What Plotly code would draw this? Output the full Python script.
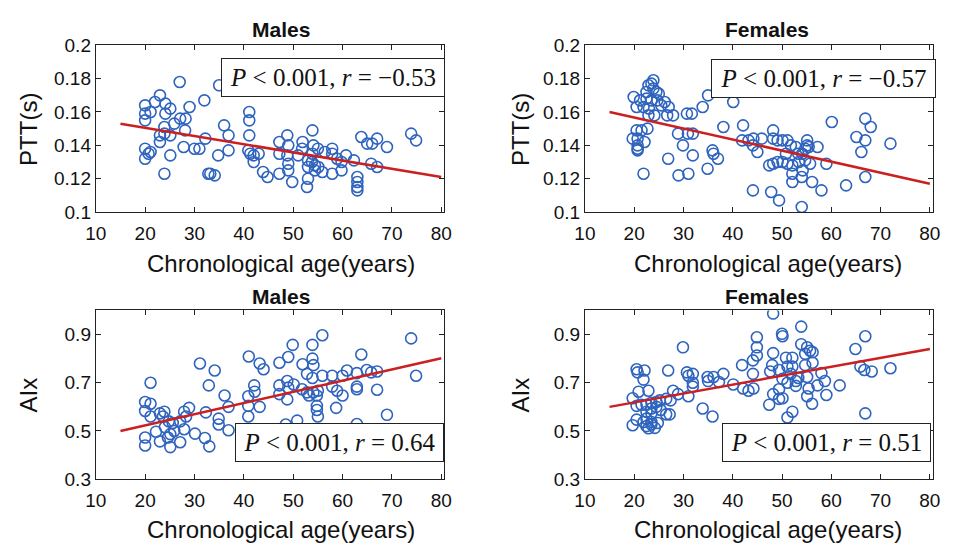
import plotly.graph_objects as go

# ---------------- data ----------------
males_ptt_age = [27.0,35.0,23.0,22.0,20.0,24.1,25.1,20.0,21.1,32.0,29.0,24.1,20.0,27.1,28.2,25.9,23.9,28.1,25.1,23.0,23.9,23.0,20.0,21.1,20.7,20.0,25.1,27.8,30.0,31.0,32.2,36.0,36.9,36.9,34.8,23.9,32.8,33.2,34.1,41.1,41.1,41.1,40.9,41.3,42.0,43.0,42.0,43.9,44.8,
                 48.8,47.2,47.2,49.0,48.8,49.0,49.0,47.2,49.8,51.9,51.8,51.0,53.9,54.1,55.0,53.9,53.0,53.8,54.4,55.1,53.0,54.4,55.9,53.0,52.8,57.9,57.9,58.9,60.7,59.8,59.8,57.9,63.0,63.0,63.0,63.0,63.8,65.0,66.0,67.0,69.0,65.8,67.0,73.9,74.9,56.4,62.3]
males_ptt = [0.178,0.176,0.170,0.166,0.164,0.165,0.162,0.159,0.160,0.167,0.163,0.159,0.155,0.156,0.156,0.153,0.151,0.149,0.146,0.146,0.147,0.142,0.138,0.136,0.135,0.132,0.134,0.139,0.138,0.138,0.144,0.152,0.146,0.137,0.134,0.123,0.123,0.123,0.122,0.160,0.155,0.146,0.137,0.135,0.134,0.135,0.130,0.124,0.121,
             0.146,0.142,0.135,0.140,0.134,0.129,0.125,0.123,0.118,0.142,0.138,0.134,0.149,0.140,0.138,0.135,0.131,0.130,0.128,0.127,0.127,0.125,0.124,0.120,0.115,0.138,0.135,0.132,0.134,0.130,0.125,0.123,0.121,0.118,0.115,0.113,0.145,0.141,0.141,0.144,0.139,0.129,0.127,0.147,0.143,0.136,0.131]

females_ptt_age = [23.9,23.5,22.9,23.9,22.5,24.5,25.0,19.9,21.2,22.5,23.5,24.7,26.2,25.5,20.5,21.9,23.0,27.0,22.9,24.1,26.7,27.9,30.7,31.7,33.9,35.0,40.1,20.5,21.5,22.7,19.7,20.7,22.1,20.7,20.7,20.7,28.9,30.9,31.9,29.9,31.9,35.9,36.1,37.0,26.9,21.9,29.0,31.0,34.9,38.1,42.1,41.9,43.2,44.2,44.1,45.0,44.1,
                   60.1,66.9,68.0,48.2,45.9,48.2,49.1,50.1,51.1,51.8,52.8,55.1,55.1,54.7,55.4,57.2,54.1,53.3,50.8,65.1,66.9,66.1,72.0,47.4,48.2,49.1,50.1,51.1,52.1,53.4,54.7,55.7,54.2,52.1,54.0,52.1,56.1,59.0,58.0,63.0,66.9,47.8,49.4,54.0]
females_ptt = [0.179,0.177,0.176,0.174,0.172,0.172,0.171,0.169,0.167,0.168,0.167,0.167,0.166,0.164,0.163,0.163,0.162,0.163,0.158,0.158,0.158,0.158,0.159,0.159,0.163,0.170,0.166,0.149,0.149,0.150,0.144,0.144,0.142,0.140,0.138,0.137,0.147,0.147,0.147,0.140,0.134,0.137,0.135,0.132,0.132,0.123,0.122,0.123,0.126,0.151,0.152,0.143,0.143,0.144,0.140,0.136,0.113,
               0.154,0.156,0.151,0.149,0.144,0.144,0.143,0.143,0.143,0.140,0.139,0.143,0.140,0.138,0.139,0.139,0.135,0.135,0.135,0.145,0.143,0.136,0.141,0.128,0.129,0.130,0.130,0.129,0.128,0.130,0.131,0.129,0.125,0.123,0.121,0.118,0.118,0.129,0.113,0.116,0.121,0.112,0.107,0.103]

males_aix_age = [41.0,43.2,44.0,31.1,34.1,21.1,32.9,42.1,42.2,40.9,36.1,20.0,21.1,20.0,21.1,23.0,23.9,23.6,24.8,27.9,28.9,28.3,32.3,36.9,40.9,43.2,40.9,34.9,34.9,36.9,22.2,24.0,25.6,25.9,25.1,27.1,27.9,30.1,32.1,33.0,20.0,20.0,23.0,25.1,27.1,24.6,
                 55.9,49.9,53.9,73.9,49.0,47.2,51.9,53.9,54.1,63.8,52.8,53.9,55.9,57.9,60.0,60.9,62.9,64.9,65.8,67.0,74.9,47.2,48.8,49.0,50.1,47.2,48.8,51.8,52.8,54.1,55.0,54.8,53.2,57.9,58.9,60.0,62.9,62.9,67.0,54.8,54.8,55.0,58.7,69.0,50.8,62.9,48.5]
males_aix = [0.809,0.780,0.756,0.780,0.751,0.700,0.689,0.689,0.663,0.644,0.647,0.620,0.613,0.583,0.560,0.573,0.580,0.560,0.540,0.580,0.596,0.560,0.577,0.600,0.604,0.600,0.560,0.551,0.527,0.503,0.497,0.516,0.533,0.500,0.487,0.540,0.507,0.489,0.471,0.436,0.473,0.440,0.457,0.433,0.453,0.473,
             0.897,0.857,0.857,0.884,0.807,0.783,0.777,0.800,0.773,0.817,0.737,0.720,0.729,0.729,0.729,0.751,0.740,0.753,0.743,0.747,0.729,0.689,0.707,0.680,0.693,0.653,0.631,0.673,0.660,0.660,0.667,0.647,0.647,0.684,0.667,0.647,0.684,0.673,0.671,0.604,0.587,0.560,0.596,0.567,0.543,0.529,0.527]

females_aix_age = [29.9,20.5,20.7,22.1,21.9,26.9,30.7,31.0,31.9,31.9,31.9,34.9,35.0,36.1,38.1,37.2,40.1,41.9,44.1,44.9,44.9,44.9,44.1,42.1,43.2,44.2,20.9,22.9,19.7,20.5,21.5,22.5,23.5,24.5,25.2,23.5,24.5,22.5,23.5,25.4,26.5,27.2,20.5,22.5,21.9,23.5,24.8,19.7,22.5,22.9,24.2,23.5,27.9,28.9,26.5,31.0,33.9,35.9,27.4,
                   48.2,53.9,50.0,50.1,66.9,53.9,55.1,55.7,56.2,54.7,48.2,64.9,50.8,52.1,56.2,48.0,47.6,49.4,51.1,52.1,54.7,65.9,66.7,68.2,72.0,58.0,55.1,53.3,51.8,52.8,50.1,51.1,58.7,61.7,52.8,55.4,57.2,49.4,48.2,49.4,50.1,55.1,59.0,56.1,47.4,52.1,51.1,66.9]
females_aix = [0.847,0.756,0.743,0.751,0.713,0.751,0.743,0.729,0.737,0.700,0.684,0.724,0.707,0.724,0.737,0.703,0.693,0.773,0.793,0.889,0.847,0.813,0.737,0.676,0.667,0.676,0.663,0.667,0.636,0.604,0.609,0.609,0.617,0.620,0.627,0.593,0.600,0.580,0.573,0.587,0.569,0.569,0.547,0.551,0.537,0.537,0.533,0.524,0.520,0.511,0.513,0.527,0.667,0.653,0.633,0.644,0.593,0.560,0.627,
               0.987,0.933,0.903,0.893,0.893,0.860,0.847,0.833,0.827,0.820,0.823,0.840,0.804,0.804,0.783,0.773,0.747,0.753,0.767,0.767,0.773,0.767,0.753,0.747,0.760,0.740,0.724,0.720,0.737,0.707,0.716,0.700,0.707,0.689,0.687,0.676,0.689,0.673,0.653,0.633,0.636,0.644,0.649,0.613,0.609,0.580,0.556,0.573]

fit_age = [15, 80]
males_ptt_fit = [0.153, 0.121]
females_ptt_fit = [0.160, 0.117]
males_aix_fit = [0.50, 0.802]
females_aix_fit = [0.60, 0.84]

panel_titles = ["Males", "Females", "Males", "Females"]
stats_text = ["<i>P</i> < 0.001, <i>r</i> = −0.53", "<i>P</i> < 0.001, <i>r</i> = −0.57",
              "<i>P</i> < 0.001, <i>r</i> = 0.64", "<i>P</i> < 0.001, <i>r</i> = 0.51"]
x_ticks = [10, 20, 30, 40, 50, 60, 70, 80]
ptt_ticks = [0.1, 0.12, 0.14, 0.16, 0.18, 0.2]
ptt_ticktext = ["0.1", "0.12", "0.14", "0.16", "0.18", "0.2"]
aix_ticks = [0.3, 0.5, 0.7, 0.9]
aix_ticktext = ["0.3", "0.5", "0.7", "0.9"]
x_title = "Chronological age(years)"
y_titles = ["PTT(s)", "PTT(s)", "AIx", "AIx"]

# ---------------- figure ----------------
W, H = 957, 553
BLUE = "#2F64BE"
RED = "#CC1F1F"
fig = go.Figure()

panels = [
    (males_ptt_age, males_ptt, males_ptt_fit, "x", "y"),
    (females_ptt_age, females_ptt, females_ptt_fit, "x2", "y2"),
    (males_aix_age, males_aix, males_aix_fit, "x3", "y3"),
    (females_aix_age, females_aix, females_aix_fit, "x4", "y4"),
]
for ages, vals, fit, xa, ya in panels:
    fig.add_trace(go.Scatter(x=ages, y=vals, mode="markers", xaxis=xa, yaxis=ya,
                             marker=dict(symbol="circle-open", size=11, color=BLUE,
                                         line=dict(width=1.6, color=BLUE)),
                             showlegend=False, hoverinfo="skip"))
    fig.add_trace(go.Scatter(x=fit_age, y=fit, mode="lines", xaxis=xa, yaxis=ya,
                             line=dict(color=RED, width=2.5),
                             showlegend=False, hoverinfo="skip"))

xdom_l = [86.5 / W, 442 / W]
xdom_r = [585.5 / W, 940.5 / W]
ydom_t = [1 - 210 / H, 1 - 36.7 / H]
ydom_b = [1 - 487.7 / H, 1 - 312.3 / H]

tickfont = dict(family="Liberation Sans, Arial, sans-serif", size=19, color="#111")
common_x = dict(range=[10, 80.6], tickvals=x_ticks, ticks="inside", ticklen=5,
                showline=True, linecolor="#222", linewidth=1, mirror="ticks",
                showgrid=False, zeroline=False, tickfont=tickfont, tickcolor="#222",
                ticklabelstandoff=4)
common_y = dict(ticks="inside", ticklen=5, showline=True, linecolor="#222", linewidth=1,
                mirror="ticks", showgrid=False, zeroline=False, tickfont=tickfont, tickcolor="#222")

fig.update_layout(
    width=W, height=H, margin=dict(l=0, r=0, t=0, b=0),
    paper_bgcolor="white", plot_bgcolor="white",
    xaxis=dict(domain=xdom_l, anchor="y", **common_x),
    xaxis2=dict(domain=xdom_r, anchor="y2", **common_x),
    xaxis3=dict(domain=xdom_l, anchor="y3", **common_x),
    xaxis4=dict(domain=xdom_r, anchor="y4", **common_x),
    yaxis=dict(domain=ydom_t, anchor="x", range=[0.1, 0.2], tickvals=ptt_ticks, ticktext=ptt_ticktext, **common_y),
    yaxis2=dict(domain=ydom_t, anchor="x2", range=[0.1, 0.2], tickvals=ptt_ticks, ticktext=ptt_ticktext, **common_y),
    yaxis3=dict(domain=ydom_b, anchor="x3", range=[0.3, 1.0], tickvals=aix_ticks, ticktext=aix_ticktext, **common_y),
    yaxis4=dict(domain=ydom_b, anchor="x4", range=[0.3, 1.0], tickvals=aix_ticks, ticktext=aix_ticktext, **common_y),
)

annos = []
label_font = dict(family="Liberation Sans, Arial, sans-serif", size=24, color="#111")
title_font = dict(family="Liberation Sans, Arial, sans-serif", size=21, color="#111")
stat_font = dict(family="Liberation Serif, Times New Roman, serif", size=25, color="#111")

title_x = [275, 771, 275, 771]
title_y = [20, 20, 298, 298]
xlabel_x = [275, 772, 275, 772]
xlabel_y = [263, 263, 540, 540]
ylabel_x = [18, 520, 18, 520]
ylabel_y = [124, 124, 400, 400]
for i in range(4):
    annos.append(dict(text="<b>%s</b>" % panel_titles[i], x=title_x[i] / W, y=1 - title_y[i] / H,
                      xref="paper", yref="paper", showarrow=False, font=title_font,
                      xanchor="center", yanchor="middle"))
    annos.append(dict(text=x_title, x=xlabel_x[i] / W, y=1 - xlabel_y[i] / H,
                      xref="paper", yref="paper", showarrow=False, font=label_font,
                      xanchor="center", yanchor="middle"))
    annos.append(dict(text=y_titles[i], x=ylabel_x[i] / W, y=1 - ylabel_y[i] / H, textangle=-90,
                      xref="paper", yref="paper", showarrow=False, font=label_font,
                      xanchor="center", yanchor="middle"))

box_cx = [329, 828.5, 335.5, 832.5]
box_cy = [70.5, 71, 450, 450]
box_w = [224, 225, 209, 209]
for i in range(4):
    annos.append(dict(text=stats_text[i], x=box_cx[i] / W, y=1 - box_cy[i] / H,
                      xref="paper", yref="paper", showarrow=False, font=stat_font,
                      xanchor="center", yanchor="middle", width=box_w[i] - 2, height=37,
                      bgcolor="white", bordercolor="#222", borderwidth=1, borderpad=0, align="center"))

fig.update_layout(annotations=annos)
fig.write_html("out.html")
